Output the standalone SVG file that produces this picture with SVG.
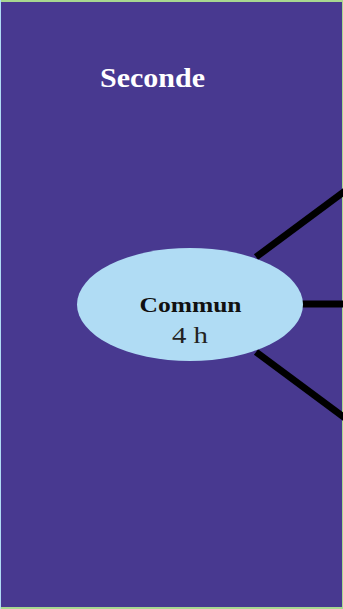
<svg xmlns="http://www.w3.org/2000/svg" width="343" height="609" viewBox="0 0 343 609">
<style>
.bg{fill:#483990}
.node{fill:#b0dcf4}
.edge{stroke:#000;stroke-width:7;fill:none}
.title{font-family:"Liberation Serif",serif;font-weight:bold;fill:#fff;font-size:27px}
.lbl{font-family:"Liberation Serif",serif;font-weight:bold;fill:#111;font-size:20px}
.sub{font-family:"Liberation Serif",serif;fill:#222;font-size:24px}
</style>
<rect x="0" y="0" width="343" height="609" fill="#a8d890"/>
<rect x="0" y="0" width="1" height="609" fill="#b0dcf4"/>
<rect class="bg" x="1" y="2" width="341" height="605"/>
<g id="title"><text class="title" x="152.5" y="87" text-anchor="middle" textLength="105" lengthAdjust="spacingAndGlyphs">Seconde</text></g>
<g id="connectors">
<line class="edge" x1="256" y1="257" x2="345" y2="191"/>
<line class="edge" x1="302" y1="304" x2="345" y2="304"/>
<line class="edge" x1="256" y1="352" x2="345" y2="418"/>
</g>
<g id="commun">
<ellipse class="node" cx="190" cy="304.5" rx="113" ry="56.5"/>
<text class="lbl" x="190.5" y="312" text-anchor="middle" textLength="102" lengthAdjust="spacingAndGlyphs">Commun</text>
<text class="sub" x="190" y="343" text-anchor="middle" textLength="36" lengthAdjust="spacingAndGlyphs">4 h</text>
</g>
</svg>
